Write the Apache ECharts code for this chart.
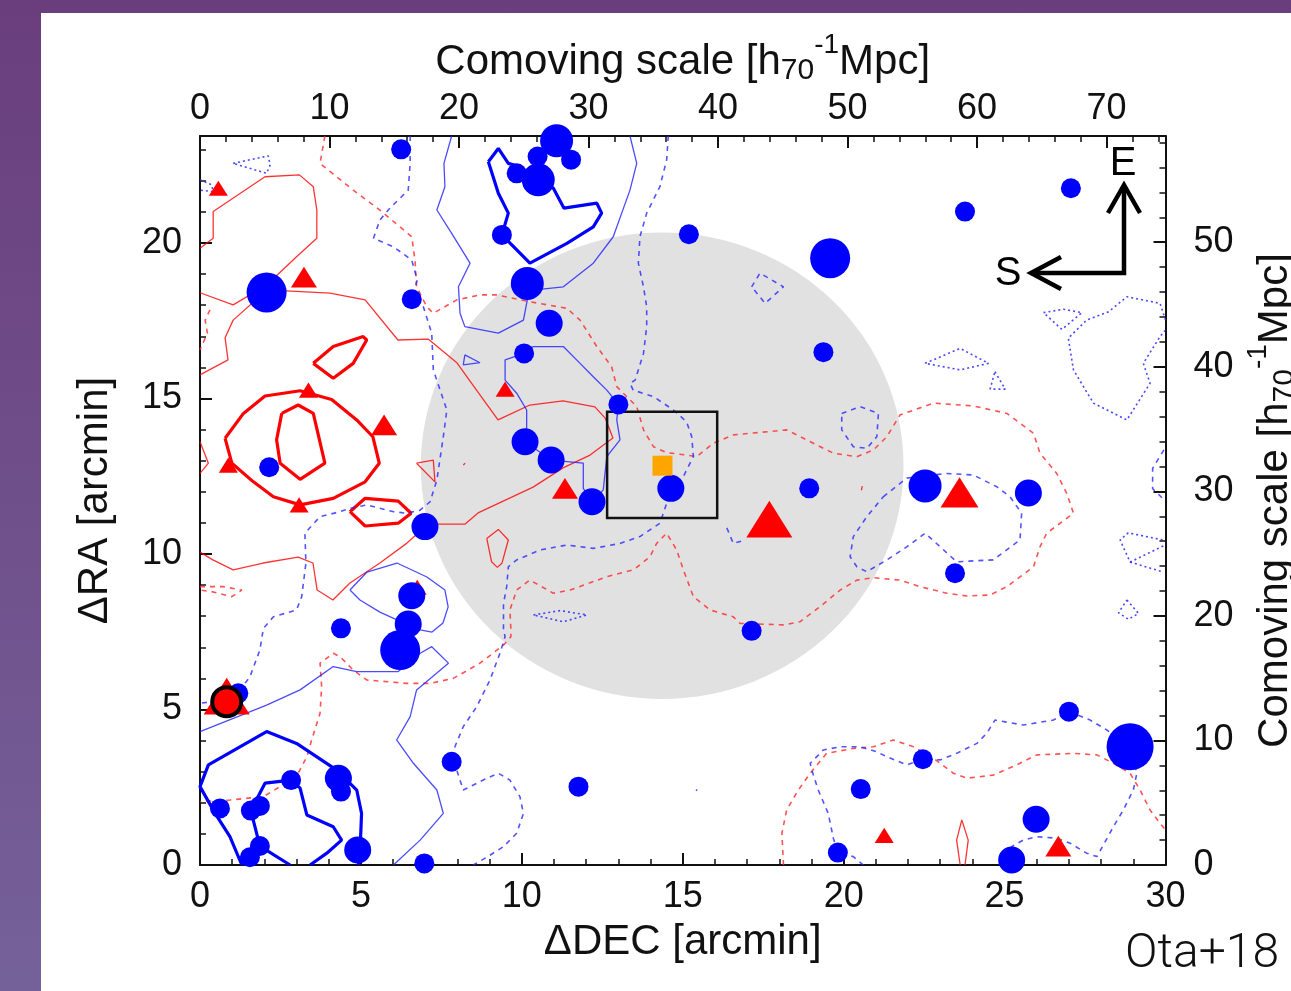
<!DOCTYPE html>
<html>
<head>
<meta charset="utf-8">
<script src="https://cdn.jsdelivr.net/npm/echarts@6/dist/echarts.min.js"></script>
<style>
  html, body { margin: 0; padding: 0; width: 1291px; height: 991px; overflow: hidden; }
  body { background: linear-gradient(180deg, #6a3e7d 0%, #6f4f8a 50%, #75619a 100%); }
  #panel { position: absolute; left: 41px; top: 13px; right: 0; bottom: 0; background: #ffffff; }
  #chart { position: absolute; left: 0; top: 0; width: 1291px; height: 991px; }
</style>
</head>
<body>
<div id="panel"></div>
<div id="chart"></div>
<script>
// ---- field geometry (arcmin) ----
const DEC_MAX = 30;
const RA_MAX = 23.44;
const MPC_PER_ARCMIN_DEC = 2.485;   // comoving scale along DEC
const MPC_PER_ARCMIN_RA = 2.497;    // comoving scale along RA

// field of view circle: [dec, ra, radius]
const fovCircle = [14.36, 12.84, 7.5];
// inner field box: [dec0, ra0, dec1, ra1]
const fieldBox = [12.65, 11.16, 16.07, 14.57];
// central object
const centralSource = [[14.37, 12.84]];
// highlighted source
const markedSource = [[0.83, 5.25]];

// blue galaxies: [dec, ra, size class]
const blueGalaxies = [
  [6.25, 23.01, 1], [2.07, 18.41, 4], [6.58, 18.19, 1], [9.38, 20.26, 1], [11.08, 23.29, 3],
  [10.49, 22.78, 1], [11.53, 22.68, 1], [9.84, 22.24, 1], [10.51, 22.03, 3], [10.17, 18.70, 3],
  [10.85, 17.42, 2], [10.07, 16.45, 1], [15.19, 20.28, 1], [13.00, 14.81, 1], [10.10, 13.61, 2],
  [10.91, 13.02, 2], [12.18, 11.68, 2], [14.63, 12.11, 2], [6.99, 10.88, 2], [2.15, 12.79, 1],
  [6.58, 8.66, 2], [6.47, 7.75, 2], [4.38, 7.61, 1], [6.22, 6.91, 4], [1.19, 5.52, 1],
  [7.82, 3.32, 1], [4.30, 2.79, 2], [4.38, 2.36, 1], [2.83, 2.73, 1], [0.62, 1.82, 1],
  [1.58, 1.75, 1], [1.86, 1.90, 1], [1.86, 0.61, 1], [1.55, 0.25, 1], [4.90, 0.48, 2],
  [6.97, 0.05, 1], [11.76, 2.52, 1], [27.06, 21.76, 1], [23.77, 21.01, 1], [19.58, 19.51, 4],
  [19.37, 16.49, 1], [18.93, 12.11, 1], [22.53, 12.19, 3], [25.74, 11.96, 2], [23.46, 9.38, 1],
  [17.14, 7.53, 1], [27.00, 4.93, 1], [28.90, 3.80, 5], [22.46, 3.40, 1], [20.53, 2.44, 1],
  [19.82, 0.40, 1], [25.98, 1.47, 2], [25.22, 0.16, 2]
];

// red triangles: [dec, ra, size class]
const redSources = [
  [0.57, 21.76, 1], [3.23, 18.90, 2], [3.37, 15.27, 1], [5.72, 14.15, 2], [0.88, 12.86, 1],
  [3.08, 11.58, 1], [9.48, 15.30, 1], [11.34, 12.11, 2], [6.75, 8.93, 1], [17.69, 11.12, 4],
  [23.60, 11.98, 3], [21.26, 0.95, 1], [26.67, 0.61, 2], [0.83, 5.43, 4]
];

// ---- density contours: [dec, ra] vertices ----
const redThinPaths = [
  [[0,19.83],[0.41,20.15],[0.41,21.01],[2.02,22.13],[3.09,22.19],[3.52,21.81],[3.63,21.06],[3.63,20.15],[3.00,19.56],[2.07,18.65],[1.03,18.01],[0,18.40]],
  [[0,15.76],[0.87,16.24],[0.78,16.95],[1.03,17.52],[2.08,18.49],[4.04,18.39],[5.13,18.17],[6.15,16.88],[7.09,16.91],[7.99,16.14],[8.39,15.56],[9.26,14.31],[10.25,14.79],[11.28,14.92],[12.27,14.73],[12.59,14.37],[12.83,13.73],[12.12,13.18],[11.28,12.77],[10.35,12.15],[8.64,11.32],[8.23,10.96],[7.36,10.96],[6.99,10.87],[6.43,10.35],[5.59,9.71],[4.66,9.07],[4.13,8.52],[3.64,8.84],[3.51,9.71],[3.05,9.90],[1.96,9.71],[1.03,9.49],[0.40,9.81],[0,10.06]],
  [[0,13.61],[0.26,12.92],[0,12.59]],
  [[23.77,0],[23.87,0.80],[23.67,1.45],[23.51,0.80],[23.62,0]]
];
const redThinLoops = [
  [[6.73,12.92],[7.25,13.02],[7.30,12.32]],
  [[8.18,12.86],[8.24,12.86],[8.24,12.92],[8.18,12.92]],
  [[8.91,10.50],[9.27,10.79],[9.58,10.45],[9.38,9.70],[9.24,9.57],[9.06,9.75]],
  [[20.55,12.05],[20.58,12.05],[20.58,12.18],[20.55,12.18]]
];
const redThickLoops = [
  [[3.52,16.13],[4.14,16.67],[5.07,16.99],[5.18,16.88],[4.76,16.13],[4.14,15.65]],
  [[0.78,13.72],[1.35,14.52],[2.02,15.08],[3.11,15.25],[4.09,14.97],[4.87,14.31],[5.37,13.77],[5.57,12.92],[5.13,12.32],[4.14,11.79],[3.11,11.58],[2.28,11.84],[1.66,12.32],[0.99,12.92]],
  [[2.54,14.52],[3.05,14.79],[3.52,14.52],[3.88,12.92],[3.11,12.40],[2.49,12.92],[2.38,13.67]],
  [[4.66,11.36],[5.13,11.79],[6.16,11.70],[6.56,11.31],[6.16,10.99],[5.13,10.90]]
];
const redDashedPaths = [
  [[3.88,23.44],[3.73,22.56],[4.76,21.70],[5.59,21.06],[6.58,20.20],[6.68,19.45],[6.73,18.59],[7.05,17.95],[7.25,17.74],[7.98,18.17],[8.70,18.33],[9.22,18.33],[10.25,18.11],[11.40,17.90],[11.81,17.52],[12.33,16.67],[12.79,16.02],[12.95,15.38],[13.57,14.74],[13.78,13.99],[14.09,13.45],[14.50,13.26],[15.12,13.18],[15.43,13.13],[15.95,13.56],[16.57,13.83],[17.09,13.88],[18.23,13.99],[18.85,13.67],[19.68,13.24],[20.41,13.13],[20.92,13.34],[21.34,13.77],[21.75,14.47],[22.79,14.85],[24.03,14.76],[25.07,14.52],[25.90,13.88],[26.10,13.24],[26.62,12.59],[26.93,11.95],[27.14,11.31],[26.31,10.67],[26.10,10.23],[25.90,9.59],[25.07,8.95],[24.55,8.68],[23.83,8.65],[23.20,8.74],[22.37,8.95],[21.75,9.16],[20.92,9.24],[20.41,9.16],[19.89,8.84],[19.27,8.31],[18.64,7.82],[18.13,7.72],[17.30,7.75],[16.78,7.77],[16.57,7.98],[15.85,8.20],[15.33,8.63],[15.02,9.49],[14.81,10.13],[14.50,10.67],[14.19,10.34],[13.98,9.91],[13.47,9.49],[12.64,9.27],[11.50,8.84],[10.98,8.74],[10.25,9.16],[9.84,8.84],[9.63,8.20],[9.66,7.56],[9.66,7.34],[9.43,7.07],[8.70,6.49],[7.87,6.00],[7.15,5.84],[6.42,5.84],[5.18,5.95],[4.76,6.27],[4.35,6.70],[4.14,6.81],[3.73,6.49],[3.78,5.73],[3.73,4.88],[3.47,4.02],[3.32,3.48],[3.05,2.95],[2.49,2.52],[1.97,2.20],[0.93,2.09],[0,2.04]],
  [[0.31,17.85],[0.16,17.52],[0.23,17.10],[0,16.56]],
  [[18.13,0],[18.08,1.02],[18.23,1.77],[18.59,2.41],[18.96,2.95],[19.47,3.59],[20.30,3.75],[20.92,3.80],[21.54,4.02],[22.17,3.80],[22.79,3.43],[23.41,2.95],[23.83,2.79],[24.65,2.89],[25.38,3.22],[26.00,3.54],[27.14,3.59],[27.87,3.54],[28.38,3.27],[28.90,2.95],[29.21,2.41],[29.52,1.77],[29.83,1.34],[30,1.13]]
];
const redDashedLoops = [
  [[0,8.95],[0.72,8.95],[1.30,8.84],[0.99,8.63],[0.36,8.79],[0,8.84]]
];
const blueThinPaths = [
  [[7.82,23.44],[7.58,22.56],[7.61,21.81],[7.36,21.06],[7.82,20.31],[8.39,19.35],[8.03,18.59],[8.08,17.74],[8.23,17.31],[9.27,17.10],[10.05,17.52],[10.17,18.17],[10.41,18.49],[11.29,18.59],[12.22,19.35],[12.84,20.20],[13.36,21.70],[13.57,22.56],[13.36,23.44]],
  [[0,4.29],[2.07,5.14],[3.11,5.63],[4.14,6.38],[4.87,6.22],[6.16,6.22],[6.84,6.81],[7.20,7.02],[7.72,6.49],[6.73,5.63],[6.53,4.77],[6.11,4.02],[6.63,3.27],[7.36,2.41],[7.56,1.66],[6.84,0.80],[6.01,0]]
];
const blueThinLoops = [
  [[10.07,16.45],[9.48,16.24],[9.48,15.59],[9.84,15.17],[10.15,14.63],[10.15,14.09],[10.10,13.61],[10.91,13.02],[11.91,12.92],[11.91,12.11],[12.18,11.68],[12.53,12.06],[12.64,13.13],[13.05,13.67],[12.95,14.31],[13.00,14.81],[12.64,15.27],[12.22,15.70],[11.81,16.13],[11.29,16.67],[10.36,16.67]],
  [[8.23,16.40],[8.70,16.15],[8.18,16.08]],
  [[4.66,8.84],[5.19,9.42],[6.12,9.71],[7.05,9.26],[7.61,8.84],[7.71,8.30],[7.55,7.78],[7.21,7.49],[6.84,7.56],[6.12,7.88],[5.59,8.13],[4.97,8.52]],
  [[15.41,2.39],[15.45,2.39],[15.45,2.43],[15.41,2.43]]
];
const blueThickPaths = [
  [[1.30,0],[0.93,0.91],[0.47,1.66],[0,2.52],[0.26,3.22],[2.07,4.29],[3.00,3.91],[4.25,3.05],[4.87,2.41],[5.02,1.66],[4.97,0.38],[4.92,0]],
  [[2.80,0],[1.86,0.61],[1.76,1.02],[1.58,1.75],[2.02,2.63],[2.83,2.73],[3.11,2.47],[3.32,1.61],[4.14,1.23],[4.40,0.80],[3.94,0.38],[3.42,0]]
];
const blueThickLoops = [
  [[8.96,22.61],[9.27,23.04],[9.58,22.56],[9.94,22.45],[10.51,22.03],[10.98,21.76],[11.31,21.12],[12.33,21.28],[12.48,20.96],[12.22,20.52],[11.40,19.99],[10.25,19.35],[9.38,20.26],[9.58,20.96],[9.27,21.60]]
];
const blueDashedPaths = [
  [[6.53,23.44],[6.53,22.56],[6.47,21.70],[5.90,21.12],[5.59,20.74],[5.39,20.15],[6.01,19.88],[6.58,19.45],[6.75,18.81],[6.63,18.38],[6.94,17.95],[7.20,17.10],[7.25,15.92],[7.67,14.63],[7.56,13.77],[7.36,12.38],[7.15,11.68],[6.84,11.41],[6.42,11.31],[6.01,11.36],[5.18,11.58],[4.66,11.47],[4.35,11.36],[3.73,11.20],[3.26,10.67],[3.29,9.70],[3.16,8.63],[3.00,8.20],[2.28,7.98],[1.97,7.61],[1.86,6.91],[1.55,6.05],[1.24,5.63],[0.83,5.31],[0,5.20]],
  [[14.55,23.44],[14.50,22.67],[14.29,21.81],[13.88,20.96],[13.67,20.20],[13.62,19.35],[13.78,18.59],[13.88,17.95],[13.88,17.31],[13.78,16.45],[13.52,15.59],[13.36,15.49],[13.46,15.27],[14.09,15.06],[14.71,14.63],[15.12,14.25],[15.28,13.77],[15.33,13.13],[15.12,12.70],[15.02,12.49],[14.63,12.11],[14.50,11.63],[14.29,10.99],[13.67,10.56],[13.05,10.34],[12.22,10.18],[11.40,10.29],[10.57,10.13],[9.84,9.81],[9.58,9.59],[9.53,8.95],[9.43,8.41],[9.43,7.56],[9.48,7.34],[9.32,6.81],[9.01,5.95],[8.60,5.09],[8.18,4.45],[7.92,3.80],[7.82,3.32],[7.98,3.05],[8.18,2.41],[8.91,2.79],[9.27,2.95],[9.63,2.73],[9.94,2.20],[10.05,1.66],[9.84,1.02],[9.43,0.59],[8.91,0.25],[8.49,0]],
  [[16.37,10.84],[16.57,10.34],[16.94,10.45]],
  [[20.61,0],[20.30,0.27],[19.82,0.40],[19.68,0.86],[19.52,1.66],[19.21,2.41],[19.01,3.05],[18.96,3.27],[19.37,3.70],[19.89,3.80],[20.51,3.80],[21.03,3.64],[21.34,3.48],[21.96,3.22],[22.46,3.40],[23.00,3.38],[23.51,3.59],[24.14,3.91],[24.45,4.24],[24.70,4.66],[25.58,4.50],[26.52,4.66],[27.00,4.93],[27.66,4.66],[28.18,4.34],[28.90,3.80],[29.11,2.95],[29.00,2.41],[28.69,1.77],[28.38,1.23],[27.87,0.27],[27.55,0.38],[27.04,0.70],[26.62,0.86],[26.00,0.91],[25.58,0.80],[25.22,0.59],[24.86,0.16]],
  [[29.95,13.35],[29.60,12.75],[29.60,12.10],[29.90,11.80]]
];
const blueDashedLoops = [
  [[17.14,18.59],[17.40,19.03],[18.13,18.59],[17.56,18.06]],
  [[19.94,14.52],[20.51,14.74],[21.08,14.52],[21.03,13.77],[20.72,13.40],[20.30,13.45],[19.94,13.99]],
  [[21.23,11.84],[21.96,12.44],[23.20,12.59],[24.03,12.54],[24.76,12.16],[25.17,11.84],[25.53,11.31],[25.48,10.45],[24.65,9.81],[23.51,9.75],[23.00,10.23],[22.53,10.67],[21.96,10.23],[21.34,9.81],[20.72,9.43],[20.41,9.59],[20.20,9.91],[20.30,10.56],[20.72,11.20]]
];
const blueDottedPaths = [
  [[0,22.03],[0.36,21.87],[0.41,21.65],[0,21.70]],
  [[30,17.52],[29.83,18.06],[28.80,18.27],[28.23,17.79],[27.55,17.52],[26.98,16.94],[27.14,15.92],[27.76,14.85],[28.80,14.31],[29.52,15.49],[29.31,16.13],[29.83,16.99],[30,17.2]],
  [[29.93,10.26],[28.90,9.74],[28.59,10.45],[28.84,10.68],[29.93,10.45]],
  [[28.90,9.74],[29.93,9.42]]
];
const blueDottedLoops = [
  [[1.03,22.56],[2.12,22.80],[2.18,22.51],[2.07,22.24]],
  [[10.36,8.04],[11.19,8.18],[12.02,8.04],[11.29,7.82]],
  [[22.53,16.13],[23.62,16.61],[24.50,16.13],[23.62,15.92]],
  [[24.70,15.86],[25.02,15.30],[24.55,15.30]],
  [[26.21,17.76],[26.83,17.87],[27.40,17.76],[26.78,17.22]],
  [[28.80,8.52],[29.16,8.09],[28.85,7.90],[28.54,8.11]]
];

// ---- styling ----
const FONT = '"Liberation Sans", Arial, Helvetica, sans-serif';
const INK = '#111111';
const BLUE_SIZES = [20, 27, 33, 40, 47];
const RED_WIDTHS = [19, 26, 38, 46];

const styles = {
  redThin:    { color: 'rgba(255,0,0,0.8)', width: 1.3, type: 'solid' },
  redThick:   { color: '#ff0000', width: 3.2, type: 'solid' },
  redDashed:  { color: 'rgba(255,40,40,0.8)', width: 1.6, type: [5, 5] },
  blueThin:   { color: 'rgba(30,30,255,0.8)', width: 1.3, type: 'solid' },
  blueThick:  { color: '#0000ff', width: 3.2, type: 'solid' },
  blueDashed: { color: 'rgba(40,40,255,0.8)', width: 1.6, type: [5, 5] },
  blueDotted: { color: 'rgba(40,40,255,0.85)', width: 1.6, type: [2, 3] }
};

function contourSeries(paths, style, closed) {
  return paths.map(function (p) {
    return {
      type: 'line',
      data: closed ? p.concat([p[0]]) : p,
      symbol: 'none',
      silent: true,
      z: 2,
      lineStyle: style
    };
  });
}

function multipleOf(step) {
  return function (v) {
    return Math.abs(v / step - Math.round(v / step)) < 1e-6 ? String(v) : '';
  };
}

const tickCommon = {
  axisLine: { show: true, onZero: false, lineStyle: { color: INK, width: 2 } },
  axisTick: { show: true, inside: true, length: 12, lineStyle: { color: INK, width: 2 } },
  minorTick: { show: true, splitNumber: 5, length: 6, lineStyle: { color: INK, width: 1.5 } },
  splitLine: { show: false },
  minorSplitLine: { show: false }
};

const scaleRich = {
  sub: { fontSize: 30, fontFamily: FONT, color: INK, padding: [18, 0, 0, 0], verticalAlign: 'middle' },
  sup: { fontSize: 28, fontFamily: FONT, color: INK, padding: [0, 0, 34, 0], verticalAlign: 'middle' }
};
const scaleName = 'Comoving scale [h{sub|70}{sup|-1}Mpc]';

const series = []
  .concat(contourSeries(redThinPaths, styles.redThin, false))
  .concat(contourSeries(redThinLoops, styles.redThin, true))
  .concat(contourSeries(redThickLoops, styles.redThick, true))
  .concat(contourSeries(redDashedPaths, styles.redDashed, false))
  .concat(contourSeries(redDashedLoops, styles.redDashed, true))
  .concat(contourSeries(blueThinPaths, styles.blueThin, false))
  .concat(contourSeries(blueThinLoops, styles.blueThin, true))
  .concat(contourSeries(blueThickPaths, styles.blueThick, false))
  .concat(contourSeries(blueThickLoops, styles.blueThick, true))
  .concat(contourSeries(blueDashedPaths, styles.blueDashed, false))
  .concat(contourSeries(blueDashedLoops, styles.blueDashed, true))
  .concat(contourSeries(blueDottedPaths, styles.blueDotted, false))
  .concat(contourSeries(blueDottedLoops, styles.blueDotted, true));

// field of view (grey disc)
series.unshift({
  type: 'custom',
  silent: true,
  z: 1,
  data: [fovCircle],
  renderItem: function (params, api) {
    const c = api.coord([api.value(0), api.value(1)]);
    const s = api.size([api.value(2), api.value(2)]);
    return {
      type: 'circle',
      x: c[0], y: c[1],
      scaleY: s[1] / s[0],
      shape: { cx: 0, cy: 0, r: s[0] },
      style: { fill: '#e1e1e1' }
    };
  }
});

// inner field box
series.push({
  type: 'custom',
  silent: true,
  z: 4,
  data: [fieldBox],
  renderItem: function (params, api) {
    const a = api.coord([api.value(0), api.value(1)]);
    const b = api.coord([api.value(2), api.value(3)]);
    return {
      type: 'rect',
      shape: { x: Math.min(a[0], b[0]), y: Math.min(a[1], b[1]), width: Math.abs(b[0] - a[0]), height: Math.abs(b[1] - a[1]) },
      style: { fill: 'none', stroke: INK, lineWidth: 2.5 }
    };
  }
});

series.push({
  type: 'scatter',
  z: 5,
  silent: true,
  data: redSources,
  symbol: 'triangle',
  symbolSize: function (v) { const w = RED_WIDTHS[v[2] - 1]; return [w, w * 0.8]; },
  itemStyle: { color: '#ff0000', opacity: 1 }
});
series.push({
  type: 'scatter',
  z: 6,
  silent: true,
  data: blueGalaxies,
  symbol: 'circle',
  symbolSize: function (v) { return BLUE_SIZES[v[2] - 1]; },
  itemStyle: { color: '#0000ff', opacity: 1 }
});
series.push({
  type: 'scatter',
  z: 7,
  silent: true,
  data: markedSource,
  symbol: 'circle',
  symbolSize: 29,
  itemStyle: { color: '#ff0000', borderColor: '#000000', borderWidth: 4, opacity: 1 }
});
series.push({
  type: 'scatter',
  z: 7,
  silent: true,
  data: centralSource,
  symbol: 'rect',
  symbolSize: 20,
  itemStyle: { color: '#ffa500', opacity: 1 }
});

const chart = echarts.init(document.getElementById('chart'), null, { renderer: 'canvas' });
chart.setOption({
  animation: false,
  backgroundColor: 'transparent',
  textStyle: { fontFamily: FONT, color: INK },
  grid: { left: 200, top: 136, width: 965.5, height: 729, containLabel: false, outerBoundsMode: 'none' },
  xAxis: [
    Object.assign({
      type: 'value', position: 'bottom', min: 0, max: DEC_MAX, interval: 5,
      axisLabel: { fontSize: 36, color: INK, fontFamily: FONT, margin: 14 },
      name: 'ΔDEC [arcmin]', nameLocation: 'middle', nameGap: 56,
      nameTextStyle: { fontSize: 42, color: INK, fontFamily: FONT }
    }, tickCommon),
    Object.assign({
      type: 'value', position: 'top', min: 0, max: DEC_MAX * MPC_PER_ARCMIN_DEC, interval: 10,
      axisLabel: { fontSize: 36, color: INK, fontFamily: FONT, margin: 9, formatter: multipleOf(10) },
      name: scaleName, nameLocation: 'middle', nameGap: 40,
      nameTextStyle: { fontSize: 42, color: INK, fontFamily: FONT, rich: scaleRich }
    }, tickCommon)
  ],
  yAxis: [
    Object.assign({
      type: 'value', position: 'left', min: 0, max: RA_MAX, interval: 5,
      axisLabel: { fontSize: 36, color: INK, fontFamily: FONT, margin: 18, formatter: multipleOf(5) },
      name: 'ΔRA [arcmin]', nameLocation: 'middle', nameGap: 84, nameRotate: 90,
      nameTextStyle: { fontSize: 42, color: INK, fontFamily: FONT }
    }, tickCommon),
    Object.assign({
      type: 'value', position: 'right', min: 0, max: RA_MAX * MPC_PER_ARCMIN_RA, interval: 10,
      axisLabel: { fontSize: 36, color: INK, fontFamily: FONT, margin: 28, formatter: multipleOf(10) },
      name: scaleName, nameLocation: 'middle', nameGap: 77, nameRotate: 90,
      nameTextStyle: { fontSize: 42, color: INK, fontFamily: FONT, rich: scaleRich }
    }, tickCommon)
  ],
  series: series,
  graphic: [
    { type: 'polyline', z: 10, silent: true, shape: { points: [[1031, 273], [1124, 273], [1124, 186]] },
      style: { stroke: '#000', lineWidth: 4.5, fill: null, lineJoin: 'miter' } },
    { type: 'polyline', z: 10, silent: true, shape: { points: [[1108, 213], [1124, 185], [1140, 213]] },
      style: { stroke: '#000', lineWidth: 4.5, fill: null, lineJoin: 'miter' } },
    { type: 'polyline', z: 10, silent: true, shape: { points: [[1061, 257], [1031, 273], [1061, 289]] },
      style: { stroke: '#000', lineWidth: 4.5, fill: null, lineJoin: 'miter' } },
    { type: 'text', z: 10, silent: true, x: 1123, y: 164,
      style: { text: 'E', fontSize: 40, fontFamily: FONT, fill: '#000', align: 'center', verticalAlign: 'middle' } },
    { type: 'text', z: 10, silent: true, x: 1008, y: 274,
      style: { text: 'S', fontSize: 40, fontFamily: FONT, fill: '#000', align: 'center', verticalAlign: 'middle' } },
    { type: 'text', z: 10, silent: true, x: 1279, y: 955,
      style: { text: 'Ota+18', fontSize: 48, fontFamily: 'Roboto, Lato, "Open Sans", sans-serif', fontWeight: 300, fill: '#111', align: 'right', verticalAlign: 'middle' } }
  ]
});
</script>
</body>
</html>
